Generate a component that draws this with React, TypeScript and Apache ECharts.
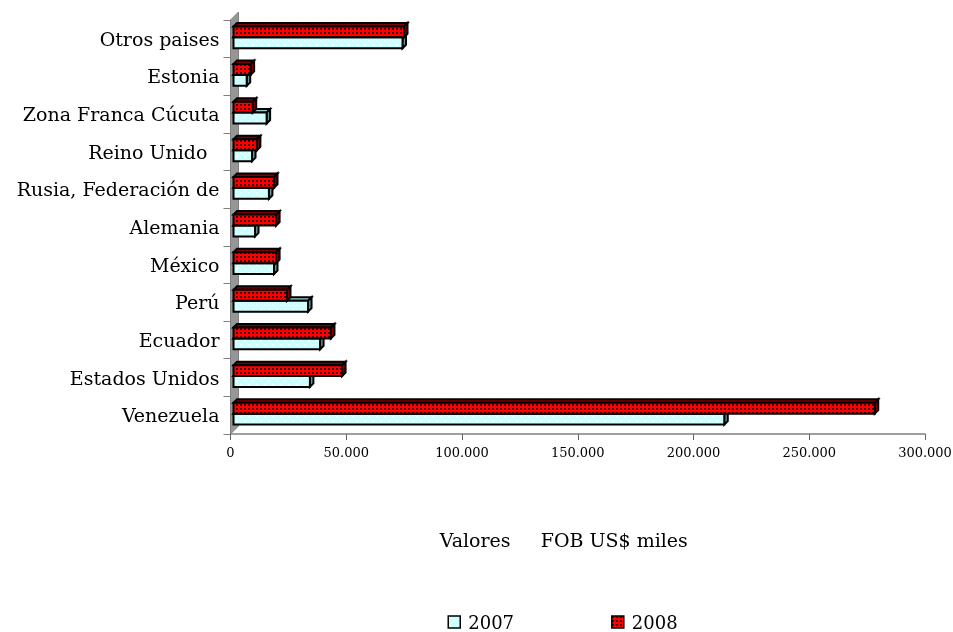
import React, { useEffect, useRef } from "react";
import * as echarts from "echarts";

const categories = ["Venezuela", "Estados Unidos", "Ecuador", "Perú", "México", "Alemania", "Rusia, Federación de", "Reino Unido  ", "Zona Franca Cúcuta", "Estonia", "Otros paises"];
const values2007 = [212000, 33000, 37400, 32200, 17500, 9300, 15300, 8000, 14300, 5700, 73000];
const values2008 = [277000, 46900, 42100, 23100, 18400, 18400, 17500, 10100, 8300, 7400, 73650];
const seriesNames = ["2007", "2008"];
const xTicks = { min: 0, max: 300000, interval: 50000 };
const axisTitle = "Valores     FOB US$ miles";

function tile(size: number, bg: string, dot: string, dotSize: number, checker: boolean) {
  const c = document.createElement("canvas");
  c.width = size;
  c.height = size;
  const g = c.getContext("2d")!;
  g.fillStyle = bg;
  g.fillRect(0, 0, size, size);
  g.fillStyle = dot;
  g.fillRect(0, 0, dotSize, dotSize);
  if (checker) g.fillRect(size / 2, size / 2, dotSize, dotSize);
  return { image: c.toDataURL(), repeat: "repeat", imageWidth: size, imageHeight: size };
}

const fmt = (v: number) => (v === 0 ? "0" : String(v / 1000) + ".000");

export default function App() {
  const ref = useRef<HTMLDivElement>(null);
  useEffect(() => {
    const chart = echarts.init(ref.current!, undefined, { renderer: "svg" });
    const red = tile(4, "#ff0000", "#400000", 2, false);
    const cyan = tile(8, "#ccffff", "#f2ffff", 2, true);
    const faces = [
      { front: cyan, top: "#99cccc", side: "#669999" },
      { front: red, top: "#800000", side: "#800000" },
    ];
    const makeRender = (idx: number) => (_: any, api: any) => {
      const v = api.value(0);
      const cat = api.value(1);
      const start = api.coord([0, cat]);
      const end = api.coord([v, cat]);
      const band = api.size([0, 1])[1];
      const h = band * 0.29;
      const d = 3.5;
      const x0 = start[0] + 3;
      const x1 = end[0] + 3;
      const cy = start[1] - 1.5;
      const y0 = idx === 1 ? cy - h : cy;
      const y1 = y0 + h;
      const line = { stroke: "#000", lineWidth: 2, lineJoin: "miter" };
      return {
        type: "group",
        children: [
          { type: "polygon", shape: { points: [[x0, y0], [x0 + d, y0 - d], [x1 + d, y0 - d], [x1, y0]] }, style: { fill: faces[idx].top, ...line } },
          { type: "polygon", shape: { points: [[x1, y0], [x1 + d, y0 - d], [x1 + d, y1 - d], [x1, y1]] }, style: { fill: faces[idx].side, ...line } },
          { type: "rect", shape: { x: x0, y: y0, width: x1 - x0, height: h }, style: { fill: faces[idx].front, ...line } },
        ],
      };
    };
    const serif = "DejaVu Serif";
    chart.setOption({
      animation: false,
      grid: { left: 230.5, right: 28, top: 20, bottom: 198, containLabel: false, outerBoundsMode: "none" },
      graphic: [
        {
          type: "polygon",
          z: 0,
          shape: { points: [[230.5, 20], [238.5, 12], [238.5, 426], [230.5, 434]] },
          style: { fill: "#969696", stroke: "#808080", lineWidth: 1 },
        },
      ],
      legend: {
        data: [
          { name: seriesNames[0], icon: "rect", itemStyle: { color: cyan, borderColor: "#000", borderWidth: 1.5 } },
          { name: seriesNames[1], icon: "rect", itemStyle: { color: red, borderColor: "#000", borderWidth: 1.5 } },
        ],
        left: 447.5,
        top: 613,
        itemWidth: 12,
        itemHeight: 12,
        itemGap: 97,
        padding: 0,
        textStyle: { fontFamily: serif, fontSize: 18, color: "#000", padding: [0, 0, 0, 3] },
      },
      xAxis: {
        type: "value",
        min: xTicks.min,
        max: xTicks.max,
        interval: xTicks.interval,
        splitLine: { show: false },
        axisLine: { show: true, lineStyle: { color: "#808080", width: 1.5 } },
        axisTick: { show: true, length: 6, lineStyle: { color: "#666", width: 1 } },
        axisLabel: { formatter: fmt, fontFamily: serif, fontSize: 13, color: "#000", margin: 12 },
        name: axisTitle,
        nameLocation: "middle",
        nameGap: 96,
        nameTextStyle: { fontFamily: serif, fontSize: 19, color: "#000", padding: [0, 28, 0, 0] },
      },
      yAxis: {
        type: "category",
        data: categories,
        axisLine: { show: true, lineStyle: { color: "#808080", width: 1 } },
        axisTick: { show: true, length: 7, alignWithLabel: false, lineStyle: { color: "#808080", width: 1 } },
        axisLabel: { fontFamily: serif, fontSize: 19, color: "#000", margin: 11, interval: 0, padding: [0, 0, 3, 0] },
      },
      series: [
        { name: seriesNames[0], type: "custom", renderItem: makeRender(0), encode: { x: 0, y: 1 }, data: values2007.map((v, i) => [v, i]) },
        { name: seriesNames[1], type: "custom", renderItem: makeRender(1), encode: { x: 0, y: 1 }, data: values2008.map((v, i) => [v, i]) },
      ],
    });
    return () => chart.dispose();
  }, []);
  return <div ref={ref} style={{ position: "fixed", left: 0, top: 0, width: 953, height: 632 }} />;
}
